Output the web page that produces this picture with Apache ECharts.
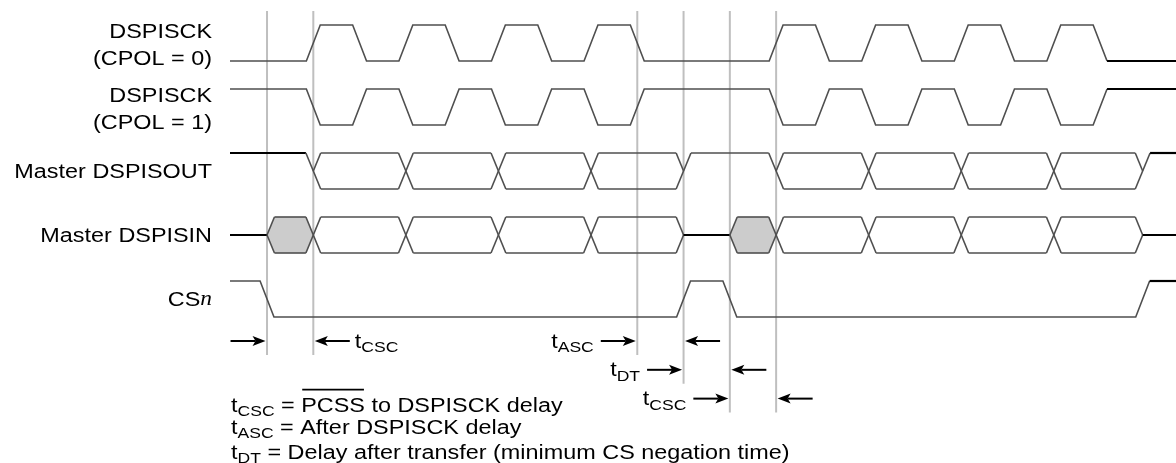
<!DOCTYPE html>
<html><head><meta charset="utf-8">
<script src="https://cdn.jsdelivr.net/npm/echarts@6/dist/echarts.min.js"></script>
<style>html,body{margin:0;padding:0;background:#fff}#c{width:1176px;height:463px}</style>
</head><body><div id="c"></div>
<script>
// ---------------- data ----------------
const rowLabels = [
  [['DSPISCK','']], [['(CPOL = 0)','']],
  [['DSPISCK','']], [['(CPOL = 1)','']],
  [['Master DSPISOUT','']],
  [['Master DSPISIN','']],
  [['CS',''],['n','it']]
];
const rowLabelRow = [0, 0, 1, 1, 2, 3, 4];
const rowLabelLine = [1, 2, 1, 2, 0, 0, 0];   // 0 = single line, 1/2 = two-line label
const clockEdges = [5,10,15,20,25,30,35,40,55,60,65,70,75,80,85,90];
const cpol0Start = 0;
const cpol1Start = 1;
const csEdges = [0,45,50,94.6];
const csStart = 1;
const doutBounds = [5,15,25,35,45,55,65,75,85,94.6];
const doutStates = ['hi','bus','bus','bus','bus','hi','bus','bus','bus','bus','hi'];
const dinBounds  = [0,5,15,25,35,45,50,55,65,75,85,94.6];
const dinStates  = ['z','fill','bus','bus','bus','bus','z','fill','bus','bus','bus','bus','z'];
const markerTimes = [0,5,40,45,50,55];
const timingNames = ['CSC','ASC','DT','CSC'];
const timingFrom  = [0,40,45,50];
const timingTo    = [5,45,50,55];
const timingRow   = [0,0,1,2];
const timingSide  = ['right','left','left','left'];
const notes = [
  [['t',''],['CSC','sub'],[' = ',''],['PCSS','over'],[' to DSPISCK delay','']],
  [['t',''],['ASC','sub'],[' = After DSPISCK delay','']],
  [['t',''],['DT','sub'],[' = Delay after transfer (minimum CS negation time)','']]
];

// ---------------- layout / style ----------------
const SX = 1.17, FS = 20, SUBFS = 15, SUB_DY = 6;
const FONT = '"Liberation Sans", Arial, Helvetica, sans-serif';
const SERIF = '"Liberation Serif", "Times New Roman", serif';
const X_MIN = -4, X_MAX = 98.2;
const ROW = 64/36;
const Y_MAX = 1 + 25/36, Y_MIN = Y_MAX - 463/36;
const HC = 0.75, HD = 0.8;
const GREY = '#4f4f4f', BLACK = '#000', MARK = '#bfbfbf', FILL = '#cccccc';
const LW = 1.6, LWB = 2.2;
function lvY(k, lv){ return -k*ROW + lv; }
const ARROW_BASE = lvY(4,0) - 0.667;
const ARROW_Y = [ARROW_BASE, ARROW_BASE - 0.8, ARROW_BASE - 1.6];
const MARK_TOP = lvY(0,1) + 14/36;
const MARK_EXT = 14/36;
const NOTE_DY = [7.5, 29.5, 54.5];
const ARROW_LEN = 35, AH_LEN = 13, AH_W = 5, AH_NOTCH = 3, GAP = 1.5;

const mctx = document.createElement('canvas').getContext('2d');
function measure(s, kind){
  const fs = kind==='sub' ? SUBFS : FS;
  const it = kind==='it';
  mctx.font = (it?'italic ':'') + fs + 'px ' + (it?SERIF:FONT);
  return mctx.measureText(s).width * SX;
}
function seg(p1, p2, color, lw){
  return {type:'line', shape:{x1:p1[0],y1:p1[1],x2:p2[0],y2:p2[1]}, style:{stroke:color, lineWidth:lw, lineCap:'butt'}};
}
function poly(pts, color, lw){
  return {type:'polyline', shape:{points:pts}, style:{stroke:color, lineWidth:lw, fill:null, lineJoin:'miter'}};
}
function textRuns(items, x, y, align){
  const widths = items.map(([s,k]) => measure(s,k));
  const total = widths.reduce((a,b)=>a+b,0);
  let cx = align==='right' ? x - total : x;
  const out = [];
  items.forEach(([s,kind],i)=>{
    const sub = kind==='sub', it = kind==='it';
    out.push({type:'text', x:cx, y:y + (sub?SUB_DY:0), scaleX:SX,
      style:{text:s, x:0, y:0, fontSize: sub?SUBFS:FS, fontFamily: it?SERIF:FONT,
             fontStyle: it?'italic':'normal', fill:'#000', align:'left', verticalAlign:'middle'}});
    if (kind==='over') out.push(seg([cx+1, y-16.5],[cx+widths[i]-1, y-16.5], BLACK, 1.6));
    cx += widths[i];
  });
  return out;
}
function arrow(tipX, y, dir){
  const tail = tipX - dir*ARROW_LEN;
  const base = tipX - dir*AH_LEN;
  return [seg([tail,y],[base + dir*AH_NOTCH,y],BLACK,2),
    {type:'polygon', shape:{points:[[tipX,y],[base,y-AH_W],[base+dir*AH_NOTCH,y],[base,y+AH_W]]}, style:{fill:BLACK, stroke:null}}];
}

function renderWave(params, api){
  const k = api.value(0);
  const c = (t, lv) => api.coord([t, lvY(k, lv)]);
  const fills = [], lines = [];
  if (k===0 || k===1 || k===4){
    const start = k===0 ? cpol0Start : (k===1 ? cpol1Start : csStart);
    const edges = k===4 ? csEdges : clockEdges;
    const pts = [c(X_MIN, start)]; let lv = start; let lastT = X_MIN;
    edges.forEach(e=>{ pts.push(c(e-HC, lv)); lv = 1-lv; pts.push(c(e+HC, lv)); lastT = e+HC; });
    lines.push(poly(pts, GREY, LW));
    lines.push(seg(c(lastT, lv), c(X_MAX, lv), BLACK, LWB));
  } else {
    const bounds = k===2 ? doutBounds : dinBounds;
    const states = k===2 ? doutStates : dinStates;
    const n = states.length;
    const isBus = s => s==='bus' || s==='fill';
    for (let i=0;i<n;i++){
      const s = states[i];
      const a = i===0 ? X_MIN : bounds[i-1], b = i===n-1 ? X_MAX : bounds[i];
      const prev = i>0 ? states[i-1] : null, next = i<n-1 ? states[i+1] : null;
      if (isBus(s)){
        const aa = i===0 ? a : a+HD, bb = i===n-1 ? b : b-HD;
        if (s==='fill') fills.push({type:'polygon', shape:{points:[c(a,.5),c(a+HD,1),c(b-HD,1),c(b,.5),c(b-HD,0),c(a+HD,0)]}, style:{fill:FILL, stroke:null}});
        lines.push(seg(c(aa,1),c(bb,1),GREY,LW), seg(c(aa,0),c(bb,0),GREY,LW));
      } else if (s==='hi'){
        const aa = prev && isBus(prev) ? a+HD : a;
        const bb = next && isBus(next) ? b-HD : b;
        const dark = (i===0 || i===n-1);
        lines.push(seg(c(aa,1), c(bb,1), dark?BLACK:GREY, dark?LWB:LW));
      } else {
        lines.push(seg(c(a,.5), c(b,.5), BLACK, LWB));
      }
      if (next){
        const t = bounds[i];
        if (isBus(s) && isBus(next)){
          lines.push(seg(c(t-HD,1),c(t+HD,0),GREY,LW), seg(c(t-HD,0),c(t+HD,1),GREY,LW));
        } else if (s==='hi' && isBus(next)){
          lines.push(seg(c(t-HD,1),c(t+HD,0),GREY,LW), seg(c(t,.5),c(t+HD,1),GREY,LW));
        } else if (isBus(s) && next==='hi'){
          lines.push(seg(c(t-HD,1),c(t,.5),GREY,LW), seg(c(t-HD,0),c(t+HD,1),GREY,LW));
        } else if (s==='z' && isBus(next)){
          lines.push(seg(c(t,.5),c(t+HD,1),GREY,LW), seg(c(t,.5),c(t+HD,0),GREY,LW));
        } else if (isBus(s) && next==='z'){
          lines.push(seg(c(t-HD,1),c(t,.5),GREY,LW), seg(c(t-HD,0),c(t,.5),GREY,LW));
        }
      }
    }
  }
  return {type:'group', children: fills.concat(lines)};
}

function renderMarker(params, api){
  const t = api.value(0);
  let row = 0;
  timingFrom.forEach((f,i)=>{ if (f===t || timingTo[i]===t) row = Math.max(row, timingRow[i]); });
  const top = api.coord([t, MARK_TOP]);
  const bot = api.coord([t, ARROW_Y[row] - MARK_EXT]);
  return seg(top, bot, MARK, 2);
}

function renderTiming(params, api){
  const i = api.value(0);
  const y = api.coord([0, ARROW_Y[timingRow[i]]])[1];
  const xf = api.coord([timingFrom[i], 0])[0];
  const xt = api.coord([timingTo[i], 0])[0];
  const children = [];
  children.push(...arrow(xf - GAP, y, 1));
  children.push(...arrow(xt + GAP, y, -1));
  const items = [['t',''],[timingNames[i],'sub']];
  if (timingSide[i]==='right') children.push(...textRuns(items, xt + GAP + ARROW_LEN + 5, y + 1, 'left'));
  else children.push(...textRuns(items, xf - GAP - ARROW_LEN - 7, y + 1, 'right'));
  return {type:'group', children};
}

function renderRowLabel(params, api){
  const i = api.value(0);
  const k = rowLabelRow[i], ln = rowLabelLine[i];
  const p = api.coord([X_MIN, lvY(k, .5)]);
  const dy = ln===1 ? -10.5 : (ln===2 ? 16.5 : 1);
  return {type:'group', children: textRuns(rowLabels[i], p[0] - 18, p[1] + dy, 'right')};
}

function renderNote(params, api){
  const i = api.value(0);
  const p = api.coord([X_MIN, ARROW_Y[2]]);
  return {type:'group', children: textRuns(notes[i], p[0] + 1, p[1] + NOTE_DY[i], 'left')};
}

const chart = echarts.init(document.getElementById('c'), null, {renderer:'canvas'});
chart.setOption({
  animation: false,
  backgroundColor: '#fff',
  grid: {left:230, right:0, top:0, bottom:0, containLabel:false, outerBoundsMode:'none'},
  xAxis: {type:'value', min:X_MIN, max:X_MAX, show:false},
  yAxis: {type:'value', min:Y_MIN, max:Y_MAX, show:false},
  series: [
    {type:'custom', name:'markers', data: markerTimes.map(t=>[t,0]), renderItem: renderMarker, clip:false, silent:true, z:1},
    {type:'custom', name:'signals', data: [0,1,2,3,4].map(k=>[k,0]), renderItem: renderWave, clip:false, silent:true, z:2},
    {type:'custom', name:'timings', data: timingNames.map((n,i)=>[i,0]), renderItem: renderTiming, clip:false, silent:true, z:3},
    {type:'custom', name:'labels', data: rowLabels.map((n,i)=>[i,0]), renderItem: renderRowLabel, clip:false, silent:true, z:3},
    {type:'custom', name:'notes', data: notes.map((n,i)=>[i,0]), renderItem: renderNote, clip:false, silent:true, z:3}
  ]
});
</script>
</body></html>
